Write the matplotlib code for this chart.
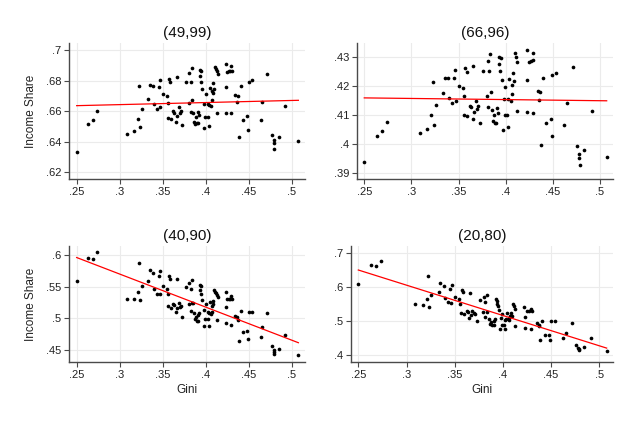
import numpy as np
import matplotlib
matplotlib.use('Agg')
import matplotlib.pyplot as plt
from matplotlib.ticker import FuncFormatter

plt.rcParams['font.family'] = ['Liberation Sans', 'DejaVu Sans']

# panel (49,99)
gini_49_99 = [.2500, .2628, .2686, .2736, .3084, .3166, .3212, .3220, .3240, .3259,
              .3333, .3352, .3387, .3398, .3429, .3452, .3464, .3468, .3506, .3545,
              .3557, .3561, .3572, .3584, .3600, .3623, .3634, .3653, .3661, .3669,
              .3692, .3704, .3715, .3727, .3766, .3805, .3808, .3824, .3828, .3839,
              .3843, .3854, .3866, .3878, .3885, .3893, .3909, .3912, .3924, .3928,
              .3936, .3943, .3947, .3955, .3974, .3982, .3993, .3997, .4024, .4028,
              .4032, .4040, .4047, .4063, .4071, .4075, .4082, .4086, .4098, .4106,
              .4117, .4125, .4129, .4137, .4230, .4230, .4234, .4249, .4272, .4280,
              .4292, .4296, .4300, .4342, .4369, .4365, .4384, .4404, .4431, .4477,
              .4493, .4500, .4539, .4636, .4655, .4710, .4764, .4787, .4791, .4791,
              .4845, .4919, .5074]
share_49_99 = [.6330, .6514, .6540, .6599, .6453, .6473, .6551, .6762, .6494, .6612,
               .6677, .6773, .6765, .6645, .6616, .6760, .6625, .6806, .6710, .6699,
               .6651, .6553, .6808, .6793, .6547, .6603, .6590, .6527, .6821, .6571,
               .6625, .6588, .6600, .6507, .6793, .6656, .6847, .6793, .6594, .6884,
               .6675, .6586, .6527, .6518, .6560, .6520, .6520, .6592, .6573, .6828,
               .6871, .6793, .6865, .6743, .6488, .6645, .6560, .6712, .6562, .6645,
               .6501, .6641, .6752, .6634, .6730, .6673, .6721, .6782, .6743, .6889,
               .6876, .6586, .6863, .6843, .6586, .6911, .6756, .6856, .6860, .6865,
               .6586, .6898, .6865, .6704, .6697, .6658, .6433, .6767, .6540, .6566,
               .6479, .6793, .6804, .6540, .6658, .6841, .6446, .6409, .6392, .6355,
               .6429, .6632, .6405]

# panel (66,96)
gini_66_96 = [.2500, .2634, .2687, .2740, .3091, .3168, .3211, .3225, .3242, .3256,
              .3334, .3356, .3391, .3401, .3430, .3455, .3465, .3469, .3508, .3547,
              .3554, .3557, .3568, .3586, .3593, .3625, .3635, .3649, .3656, .3663,
              .3681, .3699, .3706, .3727, .3759, .3798, .3809, .3816, .3826, .3837,
              .3840, .3851, .3862, .3872, .3886, .3900, .3904, .3915, .3925, .3929,
              .3939, .3946, .3957, .3968, .3978, .3989, .3992, .4010, .4021, .4028,
              .4039, .4053, .4071, .4071, .4078, .4088, .4099, .4110, .4117, .4124,
              .4223, .4226, .4223, .4244, .4265, .4287, .4287, .4294, .4340, .4365,
              .4358, .4376, .4400, .4429, .4478, .4492, .4492, .4531, .4623, .4648,
              .4711, .4753, .4778, .4782, .4786, .4832, .4913, .5071]
share_66_96 = [.3938, .4026, .4046, .4077, .4039, .4053, .4100, .4216, .4066, .4136,
               .4176, .4230, .4227, .4160, .4142, .4227, .4256, .4149, .4201, .4194,
               .4165, .4100, .4262, .4250, .4097, .4132, .4127, .4085, .4271, .4112,
               .4149, .4121, .4130, .4071, .4253, .4165, .4288, .4127, .4254, .4312,
               .4180, .4116, .4080, .4099, .4073, .4073, .4125, .4108, .4277, .4302,
               .4254, .4299, .4221, .4049, .4157, .4199, .4099, .4099, .4155, .4058,
               .4224, .4149, .4205, .4172, .4246, .4218, .4314, .4300, .4283, .4113,
               .4324, .4222, .4112, .4285, .4288, .4291, .4108, .4316, .4185, .4180,
               .4153, .3996, .4228, .4071, .4086, .4026, .4240, .4247, .4064, .4142,
               .4265, .3994, .3965, .3950, .3928, .3977, .4115, .3953]

# panel (40,90) -- same countries as (49,99)
gini_40_90 = gini_49_99
share_40_90 = [.5597, .5958, .5947, .6048, .5311, .5300, .5422, .5878, .5290, .5518,
               .5592, .5772, .5719, .5470, .5385, .5666, .5390, .5751, .5518, .5470,
               .5380, .5189, .5666, .5624, .5157, .5226, .5210, .5099, .5624, .5162,
               .5247, .5173, .5189, .5019, .5496, .5220, .5560, .5459, .5120, .5608,
               .5247, .5237, .5088, .4987, .5025, .4961, .4961, .5051, .5078, .5528,
               .5449, .5507, .5390, .5290, .4876, .5130, .4987, .5226, .4982, .5104,
               .4876, .5088, .5263, .5067, .5104, .5194, .5279, .5220, .5443, .5417,
               .5401, .4972, .5369, .5340, .5417, .4918, .5173, .5306, .5306, .5311,
               .4892, .5359, .5311, .5035, .4972, .5025, .4643, .5115, .4776, .4797,
               .4670, .5104, .5104, .4707, .4855, .5083, .4558, .4468, .4436, .4495,
               .4511, .4739, .4420]

# panel (20,80)
gini_20_80 = [.2500, .2631, .2683, .2735, .3088, .3167, .3209, .3219, .3236, .3253,
              .3333, .3350, .3388, .3399, .3426, .3450, .3464, .3468, .3502, .3548,
              .3554, .3561, .3572, .3582, .3596, .3623, .3634, .3648, .3662, .3669,
              .3682, .3699, .3710, .3727, .3762, .3793, .3800, .3817, .3810, .3834,
              .3834, .3859, .3862, .3879, .3889, .3903, .3907, .3914, .3928, .3935,
              .3941, .3945, .3955, .3973, .3976, .3990, .3990, .4011, .4021, .4025,
              .4032, .4046, .4059, .4066, .4073, .4083, .4090, .4101, .4114, .4125,
              .4128, .4222, .4225, .4225, .4253, .4270, .4287, .4291, .4298, .4350,
              .4378, .4371, .4381, .4405, .4433, .4481, .4492, .4495, .4540, .4627,
              .4651, .4713, .4758, .4782, .4786, .4786, .4841, .4917, .5076]
share_20_80 = [.6082, .6639, .6609, .6746, .5495, .5456, .5632, .6316, .5417, .5759,
               .5847, .6121, .6023, .5661, .5544, .5935, .5524, .6053, .5710, .5632,
               .5495, .5222, .5906, .5837, .5202, .5290, .5251, .5095, .5828, .5173,
               .5290, .5222, .5192, .4987, .5622, .5261, .5701, .5564, .5105, .5760,
               .5251, .5056, .4919, .4968, .4871, .4871, .5007, .5046, .5632, .5583,
               .5495, .5446, .5310, .4764, .5075, .4890, .5202, .4871, .5017, .4753,
               .5046, .5222, .5017, .5095, .5134, .5222, .5144, .5495, .5437, .5359,
               .4851, .5417, .4792, .5105, .5290, .5290, .4753, .5339, .5290, .4929,
               .4851, .4890, .4440, .5007, .4597, .4597, .4450, .4987, .4987, .4499,
               .4655, .4929, .4294, .4216, .4147, .4186, .4235, .4499, .4118]

titles = ['(49,99)', '(66,96)', '(40,90)', '(20,80)']
xticks = [.25, .3, .35, .4, .45, .5]
yticks_list = [[.62, .64, .66, .68, .7],
               [.39, .4, .41, .42, .43],
               [.45, .5, .55, .6],
               [.4, .5, .6, .7]]

# axes boxes in pixels: left, right, top, bottom
W, H = 634, 423
boxes = [(69, 305, 43, 179), (357, 613, 43, 179),
         (69, 305, 246, 362), (351, 613, 246, 362)]
xlims = [(.2411, .5151), (.2423, .5138), (.2411, .5151), (.2424, .5142)]
ylims = [(.6156, .7046), (.3878, .435), (.4304, .6148), (.3795, .7196)]

xs = [gini_49_99, gini_66_96, gini_40_90, gini_20_80]
ys = [share_49_99, share_66_96, share_40_90, share_20_80]

fig = plt.figure(figsize=(W / 100, H / 100), dpi=100)
fig.patch.set_facecolor('white')

fmt = FuncFormatter(lambda v, p: ('%g' % v).replace('0.', '.', 1))
axcol = '#4a4a4a'

for i in range(4):
    l, r, t, b = boxes[i]
    ax = fig.add_axes([l / W, 1 - b / H, (r - l) / W, (b - t) / H])
    x = np.array(xs[i])
    y = np.array(ys[i])
    ax.scatter(x, y, s=7, color='black', linewidths=0, zorder=3)
    # linear fit, as in the original
    k, c = np.polyfit(x, y, 1)
    xf = np.array([x.min(), x.max()])
    ax.plot(xf, k * xf + c, color='red', lw=0.9, zorder=4)

    ax.set_xlim(*xlims[i])
    ax.set_ylim(*ylims[i])
    ax.set_xticks(xticks)
    ax.set_yticks(yticks_list[i])
    ax.xaxis.set_major_formatter(fmt)
    ax.yaxis.set_major_formatter(fmt)
    ax.grid(True, color='#ebebeb', lw=0.8, zorder=0)
    ax.set_axisbelow(True)
    for s in ['top', 'right']:
        ax.spines[s].set_visible(False)
    for s in ['left', 'bottom']:
        ax.spines[s].set_color(axcol)
        ax.spines[s].set_linewidth(1.0)
    ax.tick_params(direction='out', length=3.5, width=0.8, color=axcol,
                   labelsize=8, pad=2, labelcolor='#222222')
    ax.set_title(titles[i], fontsize=11, pad=4, color='#111111')
    if i % 2 == 0:
        ax.set_ylabel('Income Share', fontsize=8.5, color='#222222')
        ax.yaxis.set_label_coords(-32 / (r - l), 0.5)
    if i >= 2:
        ax.set_xlabel('Gini', fontsize=8.5, color='#222222')
        ax.xaxis.set_label_coords(0.5, -22 / (b - t))

fig.savefig('out.png', dpi=100, facecolor='white')
